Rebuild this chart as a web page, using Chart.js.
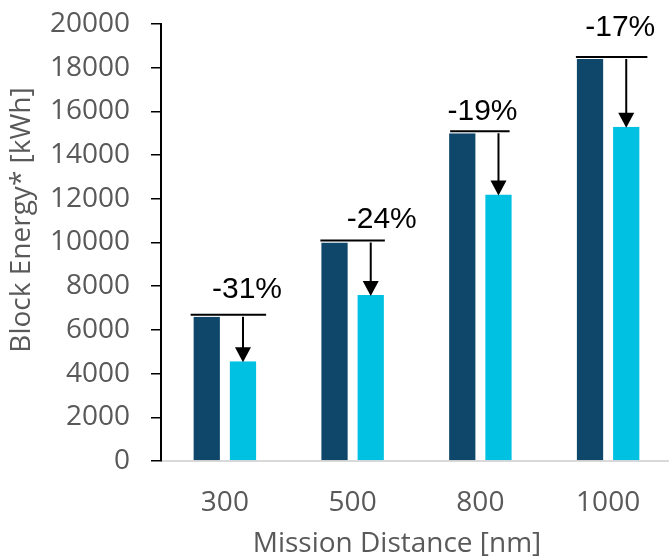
<!DOCTYPE html>
<html>
<head>
<meta charset="utf-8">
<script src="https://cdn.jsdelivr.net/npm/chart.js@4.4.1/dist/chart.umd.min.js"></script>
<style>
  html, body { margin: 0; padding: 0; background: #ffffff; overflow: hidden; }
  #wrap { width: 672px; height: 558px; }
</style>
</head>
<body>
<div id="wrap"><canvas id="chart" width="672" height="558"></canvas></div>
<script>
// Mission distances (x categories)
const categories = ['300', '500', '800', '1000'];
// Block energy of the reference aircraft [kWh]
const referenceEnergy = [6600, 10000, 15000, 18400];
// Block energy of the improved aircraft [kWh]
const improvedEnergy = [4560, 7600, 12200, 15300];
// Y axis tick values
const yTickValues = [0, 2000, 4000, 6000, 8000, 10000, 12000, 14000, 16000, 18000, 20000];

const xTitleText = 'Mission Distance [nm]';
const yTitleText = 'Block Energy* [kWh]';

// Placement tweaks for each reduction callout (pixels)
const calloutLayout = [
  { lineL: 2,  lineR: 9,  dx: 4,   dy: -25 },
  { lineL: 0,  lineR: 0,  dx: 11,  dy: -21 },
  { lineL: -2, lineR: -3, dx: -16, dy: -20 },
  { lineL: 0,  lineR: 7,  dx: -6,  dy: -29 }
];

const TEXT_GREY = '#595959';
const TICK_FONT = { family: 'Open Sans', size: 28 };

// Draws the reduction line, arrow and percentage above each pair of bars
const calloutPlugin = {
  id: 'reductionCallouts',
  afterDatasetsDraw(chart) {
    const ctx = chart.ctx;
    const refMeta = chart.getDatasetMeta(0);
    const impMeta = chart.getDatasetMeta(1);
    ctx.save();
    categories.forEach((c, i) => {
      const ref = refMeta.data[i];
      const imp = impMeta.data[i];
      const lay = calloutLayout[i];
      const lineY = ref.y - 2;
      const x0 = ref.x - ref.width / 2 - lay.lineL;
      const x1 = imp.x + imp.width / 2 + lay.lineR;

      ctx.strokeStyle = '#000';
      ctx.lineWidth = 2;
      ctx.beginPath();
      ctx.moveTo(x0, lineY);
      ctx.lineTo(x1, lineY);
      ctx.stroke();

      // arrow down to the improved bar
      const ax = imp.x;
      const tipY = imp.y + 1;
      const headH = 15, headW = 16;
      ctx.beginPath();
      ctx.moveTo(ax, lineY + 2);
      ctx.lineTo(ax, tipY - headH + 1);
      ctx.stroke();
      ctx.fillStyle = '#000';
      ctx.beginPath();
      ctx.moveTo(ax - headW / 2, tipY - headH);
      ctx.lineTo(ax + headW / 2, tipY - headH);
      ctx.lineTo(ax, tipY);
      ctx.closePath();
      ctx.fill();

      const pct = Math.round((improvedEnergy[i] / referenceEnergy[i] - 1) * 100);
      ctx.font = '30px "Liberation Sans", Arial, sans-serif';
      ctx.textAlign = 'center';
      ctx.textBaseline = 'middle';
      ctx.fillText(pct + '%', imp.x + lay.dx, lineY + lay.dy);
    });
    ctx.restore();
  },
  afterDraw(chart) {
    // axis titles
    const ctx = chart.ctx;
    const area = chart.chartArea;
    ctx.save();
    ctx.fillStyle = TEXT_GREY;
    ctx.font = '28px "Open Sans", sans-serif';
    ctx.textAlign = 'center';
    ctx.textBaseline = 'middle';
    ctx.fillText(xTitleText, 397, area.bottom + 83);
    ctx.translate(22, 220);
    ctx.rotate(-Math.PI / 2);
    ctx.fillText(yTitleText, 0, 0);
    ctx.restore();
  }
};

new Chart(document.getElementById('chart'), {
  type: 'bar',
  data: {
    labels: categories,
    datasets: [
      {
        label: 'Reference',
        data: referenceEnergy,
        backgroundColor: '#0f476b',
        borderColor: 'rgba(255,255,255,0.35)',
        borderWidth: { left: 1, right: 1, top: 0, bottom: 0 },
        categoryPercentage: 0.567,
        barPercentage: 0.78
      },
      {
        label: 'Improved',
        data: improvedEnergy,
        backgroundColor: '#00c1e2',
        borderColor: 'rgba(255,255,255,0.35)',
        borderWidth: { left: 1, right: 1, top: 0, bottom: 0 },
        categoryPercentage: 0.567,
        barPercentage: 0.78
      }
    ]
  },
  options: {
    responsive: false,
    animation: false,
    layout: { padding: { top: 24, left: 0, right: 0, bottom: 0 } },
    plugins: {
      legend: { display: false },
      tooltip: { enabled: false }
    },
    scales: {
      x: {
        grid: { display: false, drawTicks: false },
        border: { display: true, color: '#d9d9d9', width: 2 },
        ticks: { color: TEXT_GREY, font: TICK_FONT, padding: 25 },
        afterFit(scale) { scale.height = 97; }
      },
      y: {
        min: 0,
        max: 20000,
        afterBuildTicks(scale) { scale.ticks = yTickValues.map(v => ({ value: v })); },
        grid: { drawOnChartArea: false, drawTicks: true, tickLength: 10, color: '#000', lineWidth: 1.5 },
        border: { display: true, color: '#000', width: 2 },
        ticks: { color: TEXT_GREY, font: TICK_FONT, padding: 21, callback: v => String(v) },
        afterFit(scale) {
          scale.width = 161;
          scale.paddingTop = 0;
          scale.paddingBottom = 0;
        }
      }
    }
  },
  plugins: [calloutPlugin]
});
</script>
</body>
</html>
